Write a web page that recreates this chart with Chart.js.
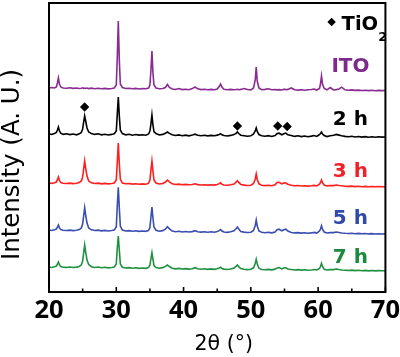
<!DOCTYPE html>
<html><head><meta charset="utf-8">
<script src="https://cdn.jsdelivr.net/npm/chart.js@4"></script>
<style>html,body{margin:0;padding:0;background:#fff}canvas{display:block}</style>
</head><body>
<canvas id="c" width="400" height="357"></canvas>
<script>
// 2θ positions (degrees)
const twoTheta = [
  20.0, 20.4, 20.8, 21.1, 21.25, 21.4, 21.55, 21.75, 22.1, 22.6,
  23.1, 23.6, 24.1, 24.5, 24.8, 25.0, 25.15, 25.3, 25.45, 25.65,
  25.9, 26.3, 26.8, 27.3, 27.8, 28.3, 28.8, 29.3, 29.7, 30.0,
  30.15, 30.3, 30.45, 30.6, 30.9, 31.4, 31.9, 32.4, 32.9, 33.4,
  33.9, 34.4, 34.8, 35.0, 35.15, 35.3, 35.45, 35.6, 35.9, 36.4,
  36.9, 37.3, 37.6, 37.9, 38.3, 38.8, 39.3, 39.8, 40.3, 40.8,
  41.3, 41.7, 42.1, 42.6, 43.1, 43.6, 44.1, 44.6, 45.0, 45.3,
  45.5, 45.7, 46.0, 46.5, 47.0, 47.5, 47.8, 48.0, 48.2, 48.5,
  49.0, 49.5, 50.0, 50.4, 50.65, 50.8, 50.95, 51.2, 51.6, 52.1,
  52.6, 53.1, 53.6, 53.9, 54.2, 54.6, 55.0, 55.2, 55.5, 56.0,
  56.5, 57.0, 57.5, 58.0, 58.5, 59.0, 59.4, 59.8, 60.2, 60.35,
  60.5, 60.65, 60.9, 61.3, 61.8, 62.3, 62.7, 63.1, 63.5, 64.0,
  64.5, 65.0, 65.5, 66.0, 66.5, 67.0, 67.5, 68.0, 68.5, 69.0,
  69.5, 70.0
];
// stacked intensities (a.u., offset for display)
const ito = [
  204, 204.5, 204, 205, 209, 214, 208, 205, 204, 203.8,
  204.2, 203.6, 204, 203.5, 203.8, 204.2, 203.6, 204, 203.5, 203.9,
  203.4, 203.9, 203.3, 203.7, 203.2, 203.6, 203.1, 203.5, 204, 207,
  235, 271, 232, 208, 204.5, 203.5, 203.8, 203.2, 203.6, 203,
  203.4, 203.2, 204, 207, 222, 241, 219, 207, 204, 203.2,
  203.5, 204.5, 207.5, 204.5, 203, 202.6, 203.5, 202.4, 202.8, 202.3,
  203.4, 205, 203.2, 202.4, 202.7, 202.2, 202.6, 202.3, 203, 205.5,
  208, 205, 202.8, 202.3, 202.6, 202.2, 202.5, 202.8, 202.3, 202.6,
  203.5, 202.5, 202.2, 204, 212, 225, 211, 204, 202.3, 202.6,
  203.2, 202.2, 202.5, 202.1, 202.4, 202, 202.8, 202.3, 202.6, 204,
  202.2, 201.9, 202.3, 201.8, 202.2, 202.5, 203, 202, 203.5, 208,
  216, 208, 203.5, 202.2, 204.5, 202, 202.4, 203, 204.8, 202.2,
  201.8, 202.1, 201.6, 201.9, 201.5, 201.8, 201.4, 201.7, 201.3, 201.6,
  201.4, 201.5
];
const h2 = [
  158.2, 157.5, 158.5, 159.5, 162, 165, 161, 158.8, 157.6, 158.2,
  157.4, 158, 157.2, 158.2, 159.5, 163, 170, 176, 171, 164,
  160, 158.4, 157.6, 158.2, 157.2, 157.8, 157, 157.6, 158.2, 161,
  178, 195, 176, 162, 158.4, 157.2, 157.8, 156.8, 157.5, 156.9,
  157.3, 156.8, 158, 161, 168, 177, 167, 160.5, 158.4, 157,
  157.6, 158.8, 160, 158.6, 157.2, 156.5, 157.1, 156.3, 156.9, 156.2,
  157, 157.8, 156.8, 156.2, 156.7, 156.1, 156.6, 156.2, 156.9, 157.5,
  158.3, 157.2, 156.5, 156, 156.6, 157.4, 158.6, 160, 158.5, 156.8,
  156.3, 155.8, 156.2, 158, 161, 164, 160.5, 157.5, 156.3, 155.8,
  156.4, 155.6, 156.5, 158.4, 158.8, 157.2, 158.4, 158.9, 157.2, 156.5,
  155.6, 156.2, 155.4, 156, 155.3, 155.9, 156.5, 155.6, 157.5, 158.5,
  160, 158, 156.4, 155.4, 156.2, 156.8, 157.6, 156.9, 156.2, 155.6,
  155.2, 155.7, 155, 155.5, 154.9, 155.4, 154.8, 155.3, 154.8, 155.2,
  154.9, 155
];
const h3 = [
  109, 108.6, 109.2, 110, 112.5, 115, 111.5, 109.4, 108.8, 108.5,
  108.9, 108.4, 108.8, 109.6, 111, 115, 123, 131, 124, 116,
  111, 109.2, 108.5, 108.9, 108.2, 108.6, 108.1, 108.5, 109, 112,
  130, 149, 128, 113, 109, 108.2, 108.5, 107.9, 108.3, 107.8,
  108.1, 107.8, 108.8, 112, 122, 131, 121, 112, 109, 108,
  108.6, 110, 112, 110.2, 108.2, 107.5, 107.9, 107.3, 107.6, 107.2,
  107.5, 108.3, 107.4, 107, 107.3, 106.9, 107.2, 106.9, 107.5, 108.4,
  109.3, 107.8, 107, 106.7, 107.2, 108, 109.8, 111.3, 109.6, 107.6,
  106.9, 106.5, 106.8, 108.5, 113, 118, 112.5, 108.2, 106.8, 106.4,
  106.8, 106.3, 107.2, 109.5, 109.8, 108.2, 109.3, 109, 107.8, 106.8,
  106.2, 106.5, 106, 106.3, 105.9, 106.2, 106.6, 106, 107.8, 109.5,
  112, 109.2, 107, 106.1, 106.5, 106.4, 107, 106.5, 106.2, 105.8,
  105.6, 105.9, 105.4, 105.7, 105.3, 105.6, 105.2, 105.5, 105.2, 105.4,
  105.2, 105.3
];
const h5 = [
  62, 61.6, 62.3, 63, 65, 67, 64.2, 62.4, 61.8, 61.5,
  61.9, 61.4, 61.8, 62.5, 64, 68, 76, 84.3, 77, 69,
  64, 62.2, 61.5, 61.9, 61.2, 61.6, 61.1, 61.5, 62, 65,
  86, 104.7, 84, 66, 62, 61, 61.4, 60.8, 61.2, 60.7,
  61, 60.7, 61.6, 64.5, 75, 85, 74, 65, 61.8, 60.8,
  61.4, 62.8, 65.3, 63.2, 61, 60.3, 60.8, 60.1, 60.5, 60,
  60.4, 61.3, 60.3, 59.9, 60.3, 59.8, 60.2, 59.8, 60.5, 61.4,
  62.5, 61, 60, 59.7, 60.2, 61.2, 63.2, 65, 63, 60.6,
  59.9, 59.5, 59.8, 61.5, 66.5, 72, 66, 61, 59.7, 59.3,
  59.7, 59.2, 60, 62.3, 62.8, 61.2, 62.5, 62.8, 61, 59.6,
  59.1, 59.4, 58.9, 59.2, 58.8, 59.1, 59.6, 59, 61, 63,
  66.3, 62.8, 60, 59, 59.4, 59.4, 60, 59.5, 59, 58.7,
  58.5, 58.8, 58.3, 58.6, 58.2, 58.5, 58.1, 58.4, 58, 58.3,
  58, 58.1
];
const h7 = [
  25, 24.6, 25.3, 26, 28, 30, 27.2, 25.4, 24.8, 24.6,
  25, 24.5, 24.9, 25.6, 27, 31, 39, 47, 40, 32,
  27.5, 25.3, 24.6, 25, 24.3, 24.7, 24.2, 24.6, 25.1, 28,
  44, 56, 42, 28, 24.8, 24, 24.4, 23.8, 24.2, 23.7,
  24, 23.7, 24.6, 27, 33.5, 39.3, 33, 26.5, 24.5, 23.8,
  24.4, 25.6, 27, 25.5, 23.8, 23.2, 23.6, 23, 23.4, 22.9,
  23.3, 24.3, 23.2, 22.8, 23.2, 22.7, 23.1, 22.7, 23.3, 24,
  24.8, 23.6, 22.9, 22.6, 23.1, 24.1, 25.6, 27, 25.4, 23.4,
  22.8, 22.4, 22.7, 24.2, 28.5, 32.7, 28, 23.8, 22.6, 22.3,
  22.6, 22.2, 22.9, 24.1, 24.5, 23.1, 24.2, 24.3, 23, 22.5,
  22.1, 22.4, 21.9, 22.2, 21.8, 22.1, 22.5, 22, 23.6, 25.5,
  28.7, 25.5, 22.8, 22, 22.4, 22.4, 23, 22.5, 22.1, 21.8,
  21.6, 21.9, 21.4, 21.7, 21.3, 21.6, 21.2, 21.5, 21.2, 21.4,
  21.2, 21.3
];
// TiO2 (anatase) peak markers on the 2 h pattern
const markerTwoTheta = [25.3, 48.0, 54.0, 55.4];
const markerIntensity = [185, 166, 166, 165.5];
const seriesNames = ['ITO', '2 h', '3 h', '5 h', '7 h'];
const xTickLabels = [20, 30, 40, 50, 60, 70];
const xTitle = '2θ (°)';
const yTitle = 'Intensity (A. U.)';

// styles / positions
const colors = ['#8a2b91', '#000000', '#ff1e1e', '#3a4db0', '#1f9140'];
const labelColors = ['#7d2a8c', '#000000', '#ee2228', '#2f4aa8', '#1a8a3c'];
const labelAt = { x: 64.8, y: [225, 172, 120, 73, 34] };
const legendAt = { x: 62.0, y: 270 };

const seriesData = [ito, h2, h3, h5, h7];
const datasets = seriesData.map((arr, i) => ({
  label: seriesNames[i],
  data: twoTheta.map((t, j) => ({ x: t, y: arr[j] })),
  borderColor: colors[i],
  borderWidth: 1.6,
  pointRadius: 0,
  tension: 0,
  fill: false
}));
datasets.push({
  label: 'TiO2',
  data: markerTwoTheta.map((t, j) => ({ x: t, y: markerIntensity[j] })),
  showLine: false,
  pointStyle: 'rectRot',
  pointRadius: 4.4,
  backgroundColor: '#000',
  borderColor: '#000',
  borderWidth: 0.5
});

const decor = {
  id: 'decor',
  afterDatasetsDraw(chart) {
    const { ctx, chartArea: a, scales: { x, y } } = chart;
    ctx.save();
    ctx.strokeStyle = '#000';
    ctx.lineWidth = 1.6;
    x.ticks.forEach(t => {
      const px = x.getPixelForValue(t.value);
      const len = (t.value % 10 === 0) ? 5 : 3.5;
      ctx.beginPath();
      ctx.moveTo(px, a.bottom);
      ctx.lineTo(px, a.bottom - len);
      ctx.stroke();
    });
    ctx.lineWidth = 2;
    ctx.strokeRect(a.left, a.top, a.right - a.left, a.bottom - a.top);

    // axis titles
    ctx.fillStyle = '#000';
    ctx.textAlign = 'center';
    ctx.textBaseline = 'middle';
    ctx.font = '20.5px "DejaVu Sans"';
    ctx.fillText(xTitle, (a.left + a.right) / 2 + 6.5, a.bottom + 53);
    ctx.save();
    ctx.translate(13, (a.top + a.bottom) / 2 + 17);
    ctx.rotate(-Math.PI / 2);
    ctx.font = '24.5px "DejaVu Sans"';
    ctx.fillText(yTitle, 0, 0);
    ctx.restore();

    // series labels
    ctx.font = 'bold 20px "DejaVu Sans"';
    seriesNames.forEach((n, i) => {
      ctx.fillStyle = labelColors[i];
      ctx.fillText(n, x.getPixelForValue(labelAt.x), y.getPixelForValue(labelAt.y[i]));
    });

    // legend: diamond + TiO2
    const lx = x.getPixelForValue(legendAt.x);
    const ly = y.getPixelForValue(legendAt.y);
    ctx.fillStyle = '#000';
    ctx.beginPath();
    ctx.moveTo(lx, ly - 4.2);
    ctx.lineTo(lx + 4.2, ly);
    ctx.lineTo(lx, ly + 4.2);
    ctx.lineTo(lx - 4.2, ly);
    ctx.closePath();
    ctx.fill();
    ctx.textAlign = 'left';
    ctx.textBaseline = 'alphabetic';
    ctx.font = 'bold 19.5px "DejaVu Sans"';
    ctx.fillText('TiO', lx + 10, ly + 7.5);
    const w = ctx.measureText('TiO').width;
    ctx.font = 'bold 13px "DejaVu Sans"';
    ctx.fillText('2', lx + 10 + w, ly + 19);
    ctx.restore();
  }
};

new Chart(document.getElementById('c'), {
  type: 'line',
  data: { datasets },
  options: {
    responsive: false,
    animation: false,
    layout: { autoPadding: false, padding: { top: 3, right: 14, bottom: 28, left: 49 } },
    plugins: { legend: { display: false }, tooltip: { enabled: false } },
    scales: {
      x: {
        type: 'linear',
        min: 20, max: 70,
        grid: { display: false, drawTicks: false },
        border: { display: false },
        ticks: {
          stepSize: 5,
          autoSkip: false,
          maxRotation: 0,
          padding: 0,
          color: '#000',
          font: { family: '"Open Sans"', weight: 'bold', size: 25.5, lineHeight: 1.45 },
          callback: v => xTickLabels.includes(v) ? String(v) : ''
        },
        title: { display: false }
      },
      y: {
        type: 'linear',
        min: 0, max: 289,
        grid: { display: false, drawTicks: false },
        border: { display: false },
        ticks: { display: false },
        title: { display: false }
      }
    }
  },
  plugins: [decor]
});
</script>
</body></html>
